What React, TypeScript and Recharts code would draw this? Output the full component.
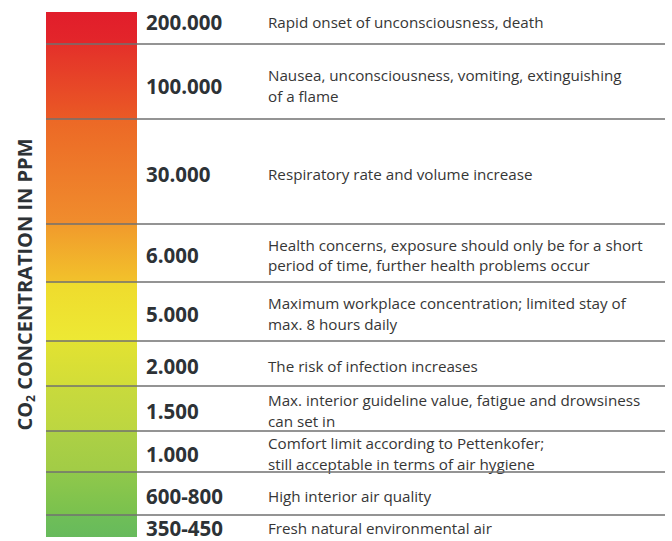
import React from "react";
import { BarChart, Bar, XAxis, YAxis } from "recharts";

// rows from top (highest concentration) to bottom
const levels = ["200.000", "100.000", "30.000", "6.000", "5.000", "2.000", "1.500", "1.000", "600-800", "350-450"];

const descriptions = [
  "Rapid onset of unconsciousness, death",
  "Nausea, unconsciousness, vomiting, extinguishing\nof a flame",
  "Respiratory rate and volume increase",
  "Health concerns, exposure should only be for a short\nperiod of time, further health problems occur",
  "Maximum workplace concentration; limited stay of\nmax. 8 hours daily",
  "The risk of infection increases",
  "Max. interior guideline value, fatigue and drowsiness\ncan set in",
  "Comfort limit according to Pettenkofer;\nstill acceptable in terms of air hygiene",
  "High interior air quality",
  "Fresh natural environmental air",
];

// band size of each row on the scale
const spans = [32, 75, 105, 58, 59, 45, 45, 41, 43, 22];

const bandColors: [string, string][] = [
  ["#e11d2b", "#e3262a"],
  ["#e4302a", "#ea5a25"],
  ["#ec6826", "#f08d2d"],
  ["#f19a2c", "#f2c22b"],
  ["#efdb2d", "#ede934"],
  ["#e2e232", "#d2dd38"],
  ["#c9da3c", "#bcd641"],
  ["#add045", "#a1cc46"],
  ["#90c84b", "#79c14e"],
  ["#6fbe58", "#67ba5c"],
];

const row: Record<string, string | number> = { name: "co2" };
spans.forEach((s, i) => (row[`r${i}`] = s));
const data = [row];
const total = spans.reduce((a, b) => a + b, 0);

const font = "'Open Sans', 'DejaVu Sans', sans-serif";

const makeShape = (i: number) => (props: any) => {
  const { x, y, width, height } = props;
  const top = Math.min(y, y + height);
  const h = Math.abs(height);
  const right = x + width;
  let cy = top + h / 2 + 2;
  if (i === 0) cy -= 8;
  if (i === 1) cy += 2;
  const lines = descriptions[i].split("\n");
  const lh = 20.5;
  return (
    <g>
      <rect x={x} y={top} width={width} height={h} fill={`url(#band${i})`} />
      {i > 0 && (
        <line x1={x} x2={right + 528} y1={top} y2={top} stroke="#707070" strokeWidth={1.6} />
      )}
      <text
        x={right + 9}
        y={cy}
        dominantBaseline="central"
        fontFamily={font}
        fontWeight={700}
        fontSize={20.5}
        fill="#2d3236"
      >
        {levels[i]}
      </text>
      {lines.map((t, k) => (
        <text
          key={k}
          x={right + 131}
          y={cy + (k - (lines.length - 1) / 2) * lh}
          dominantBaseline="central"
          fontFamily={font}
          fontSize={15.2}
          fill="#363636"
        >
          {t}
        </text>
      ))}
    </g>
  );
};

const AxisTitle = (props: any) => {
  const vb = props.viewBox || { x: 0, y: 0, width: 46, height: 525 };
  const cx = vb.x + 24;
  const cy = vb.y + vb.height / 2 + 10;
  return (
    <text
      x={cx}
      y={cy}
      transform={`rotate(-90 ${cx} ${cy})`}
      textAnchor="middle"
      dominantBaseline="central"
      fontFamily={font}
      fontWeight={700}
      fontSize={20}
      fill="#2d3236"
    >
      <tspan>CO</tspan>
      <tspan fontSize={12} dy={6}>2</tspan>
      <tspan dy={-6}> CONCENTRATION IN PPM</tspan>
    </text>
  );
};

export default function App() {
  return (
    <div style={{ position: "absolute", left: 0, top: 0, width: 672, height: 541, background: "#fff" }}>
      <BarChart
        width={672}
        height={541}
        data={data}
        margin={{ top: 12, right: 535, bottom: 4, left: 0 }}
        barCategoryGap={0}
        barGap={0}
      >
        <defs>
          {bandColors.map(([c1, c2], i) => (
            <linearGradient key={i} id={`band${i}`} x1="0" y1="0" x2="0" y2="1">
              <stop offset="0%" stopColor={c1} />
              <stop offset="100%" stopColor={c2} />
            </linearGradient>
          ))}
        </defs>
        <XAxis dataKey="name" hide />
        <YAxis
          type="number"
          domain={[0, total]}
          reversed
          width={46}
          tick={false}
          axisLine={false}
          tickLine={false}
          label={<AxisTitle />}
        />
        {spans.map((_, i) => (
          <Bar
            key={i}
            dataKey={`r${i}`}
            stackId="a"
            isAnimationActive={false}
            shape={makeShape(i)}
          />
        ))}
      </BarChart>
    </div>
  );
}
